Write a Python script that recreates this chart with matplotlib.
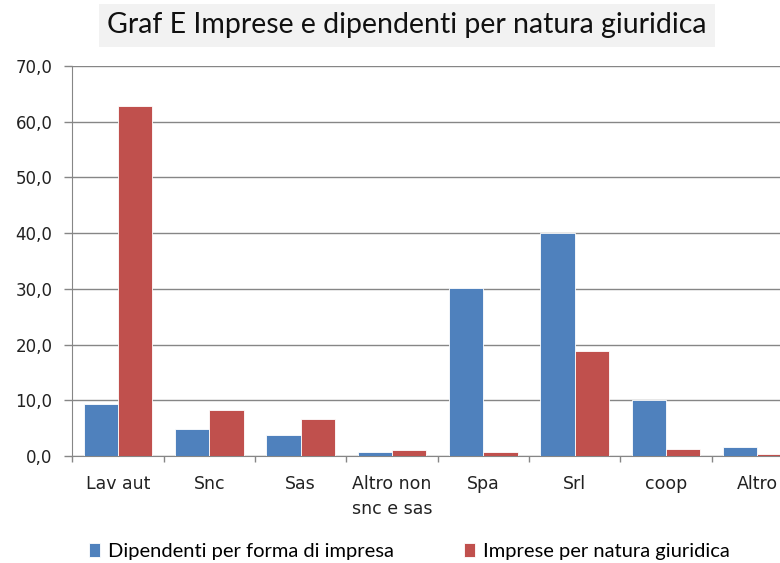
import numpy as np
import matplotlib
matplotlib.use('Agg')
import matplotlib.pyplot as plt
from matplotlib.ticker import FuncFormatter, FixedLocator

categorie = ['Lav aut', 'Snc', 'Sas', 'Altro non\nsnc e sas', 'Spa', 'Srl', 'coop', 'Altro']
dipendenti = [9.4, 4.9, 3.7, 0.7, 30.2, 40.0, 10.0, 1.6]
imprese = [62.8, 8.2, 6.7, 1.0, 0.7, 18.8, 1.3, 0.4]
y_ticks = [0, 10, 20, 30, 40, 50, 60, 70]

blu = '#4F81BD'
rosso = '#C0504D'
grigio = '#868686'

fig = plt.figure(figsize=(7.8, 5.63), dpi=100)
ax = fig.add_axes([72.4 / 780, 1 - 456 / 563, (803 - 72.4) / 780, 390 / 563])

x = np.arange(len(categorie))
w = 0.375
ax.bar(x - w / 2, dipendenti, w, color=blu, edgecolor='white', linewidth=0.6,
       label='Dipendenti per forma di impresa', zorder=3)
ax.bar(x + w / 2, imprese, w, color=rosso, edgecolor='white', linewidth=0.6,
       label='Imprese per natura giuridica', zorder=3)

ax.set_xlim(-0.5, len(categorie) - 0.5)
ax.set_ylim(0, 70)
ax.set_yticks(y_ticks)
ax.yaxis.set_major_formatter(FuncFormatter(lambda v, p: f'{v:.1f}'.replace('.', ',')))
ax.grid(axis='y', color=grigio, linewidth=1.0, zorder=0)

ax.xaxis.set_major_locator(FixedLocator(np.arange(len(categorie) + 1) - 0.5))
ax.xaxis.set_major_formatter(FuncFormatter(lambda v, p: ''))
ax.set_xticks(x, minor=True)
ax.set_xticklabels(categorie, minor=True, fontsize=12.5, color='#222222',
                   linespacing=1.5)
ax.tick_params(axis='x', which='minor', length=0, pad=14)
ax.tick_params(axis='x', which='major', length=4.3, color=grigio, width=1)
ax.tick_params(axis='y', length=5.8, color=grigio, width=1, labelsize=12,
               labelcolor='#222222', pad=8.6)

for s in ['top', 'right']:
    ax.spines[s].set_visible(False)
ax.spines['left'].set_color(grigio)
ax.spines['bottom'].set_color(grigio)

fig.text(0.522, 0.955, 'Graf E Imprese e dipendenti per natura giuridica',
         ha='center', va='center', fontsize=20.5, family=['Lato', 'DejaVu Sans'],
         color='#111111',
         bbox=dict(boxstyle='square,pad=0.3', facecolor='#F2F2F2', edgecolor='none'))

fig.legend(loc='center', bbox_to_anchor=(0.525, 0.021), ncol=2, frameon=False,
           handlelength=0.55, handleheight=0.7, handletextpad=0.4,
           columnspacing=3.5, prop={'family': ['Lato', 'DejaVu Sans'], 'size': 14.5})

fig.savefig('out.png', dpi=100)
